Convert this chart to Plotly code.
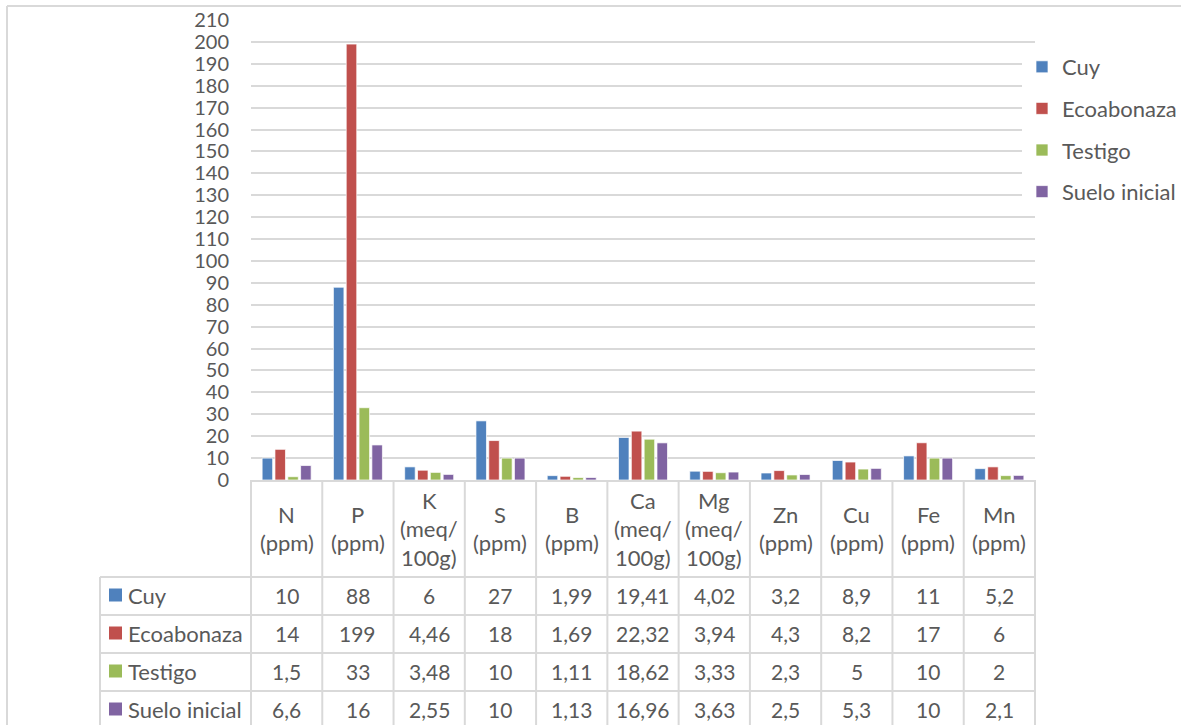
import plotly.graph_objects as go

# ---- data ----
categories = ["N (ppm)", "P (ppm)", "K (meq/100g)", "S (ppm)", "B (ppm)",
              "Ca (meq/100g)", "Mg (meq/100g)", "Zn (ppm)", "Cu (ppm)",
              "Fe (ppm)", "Mn (ppm)"]
header_lines = [["N", "(ppm)"], ["P", "(ppm)"], ["K", "(meq/", "100g)"],
                ["S", "(ppm)"], ["B", "(ppm)"], ["Ca", "(meq/", "100g)"],
                ["Mg", "(meq/", "100g)"], ["Zn", "(ppm)"], ["Cu", "(ppm)"],
                ["Fe", "(ppm)"], ["Mn", "(ppm)"]]
series_names = ["Cuy", "Ecoabonaza", "Testigo", "Suelo inicial"]
cuy = [10, 88, 6, 27, 1.99, 19.41, 4.02, 3.2, 8.9, 11, 5.2]
ecoabonaza = [14, 199, 4.46, 18, 1.69, 22.32, 3.94, 4.3, 8.2, 17, 6]
testigo = [1.5, 33, 3.48, 10, 1.11, 18.62, 3.33, 2.3, 5, 10, 2]
suelo_inicial = [6.6, 16, 2.55, 10, 1.13, 16.96, 3.63, 2.5, 5.3, 10, 2.1]
series_values = [cuy, ecoabonaza, testigo, suelo_inicial]
colors = ["#4F81BD", "#C0504D", "#9BBB59", "#8064A2"]
y_ticks = list(range(0, 211, 10))

# ---- layout geometry (pixels) ----
W_FIG, H_FIG = 1181, 725
L, R, T, B = 251, 1035, 20, 480
PW, PH = R - L, B - T
FONT = "Lato, Open Sans, sans-serif"
TXT = "#595959"
GRID = "#d9d9d9"
TXT_SIZE = 22
NUM_SIZE = 21
TICK_SIZE = 20


def px(x):
    return (x - L) / PW


def py(y):
    return (B - y) / PH


fig = go.Figure()
for name, vals, col in zip(series_names, series_values, colors):
    fig.add_trace(go.Bar(
        name=name, x=categories, y=vals, legendgroup=name,
        marker=dict(color=col, line=dict(color="rgba(255,255,255,0.7)", width=1)),
    ))

shapes = []
annotations = []
n = len(categories)
row_tops = [577, 615, 653, 691, 729]
header_top, header_bot = B, 577

# vertical table lines at category boundaries
for i in range(n + 1):
    shapes.append(dict(type="line", xref="paper", yref="paper",
                       x0=i / n, x1=i / n, y0=py(B), y1=py(730),
                       line=dict(color=GRID, width=2)))
# left border of the row-label column
shapes.append(dict(type="line", xref="paper", yref="paper",
                   x0=px(100), x1=px(100), y0=py(577), y1=py(730),
                   line=dict(color=GRID, width=2)))
# horizontal table lines
for yy in row_tops[:-1]:
    shapes.append(dict(type="line", xref="paper", yref="paper",
                       x0=px(100), x1=1, y0=py(yy), y1=py(yy),
                       line=dict(color=GRID, width=2)))
# chart outer border (left + top)
shapes.append(dict(type="line", xref="paper", yref="paper",
                   x0=px(7), x1=px(7), y0=py(6), y1=py(740),
                   line=dict(color=GRID, width=2)))
shapes.append(dict(type="line", xref="paper", yref="paper",
                   x0=px(7), x1=px(1200), y0=py(6), y1=py(6),
                   line=dict(color=GRID, width=2)))

# header labels
hc = (header_top + header_bot) / 2
lh = 28.5
for i, lines in enumerate(header_lines):
    k = len(lines)
    for j, line in enumerate(lines):
        yc = hc + (j - (k - 1) / 2) * lh
        annotations.append(dict(xref="paper", yref="paper", x=(i + 0.5) / n,
                                y=py(yc), text=line, showarrow=False,
                                xanchor="center", yanchor="middle",
                                font=dict(family=FONT, size=TXT_SIZE, color=TXT)))

# rows
for r, (name, vals, col) in enumerate(zip(series_names, series_values, colors)):
    yc = (row_tops[r] + row_tops[r + 1]) / 2 - 1
    shapes.append(dict(type="rect", xref="paper", yref="paper",
                       x0=px(109), x1=px(122), y0=py(yc - 6.5), y1=py(yc + 6.5),
                       fillcolor=col, line=dict(width=0)))
    annotations.append(dict(xref="paper", yref="paper", x=px(126), y=py(yc),
                            text=name, showarrow=False, xanchor="left",
                            yanchor="middle",
                            font=dict(family=FONT, size=TXT_SIZE, color=TXT)))
    for i, v in enumerate(vals):
        annotations.append(dict(xref="paper", yref="paper", x=(i + 0.5) / n,
                                y=py(yc), text=f"{v:g}".replace(".", ","),
                                showarrow=False, xanchor="center",
                                yanchor="middle",
                                font=dict(family=FONT, size=NUM_SIZE, color=TXT)))

fig.update_layout(
    width=W_FIG, height=H_FIG,
    margin=dict(l=L, r=W_FIG - R, t=T, b=H_FIG - B, autoexpand=False),
    paper_bgcolor="white", plot_bgcolor="white",
    barmode="group", bargap=0.28, bargroupgap=0.18,
    font=dict(family=FONT, size=NUM_SIZE, color=TXT),
    showlegend=True,
    legend=dict(x=px(1022), y=py(46), xanchor="left", yanchor="top",
                traceorder="grouped", tracegroupgap=10,
                font=dict(family=FONT, size=TXT_SIZE, color=TXT),
                itemclick=False, itemdoubleclick=False),
    xaxis=dict(showticklabels=False, showgrid=False, showline=True,
               linecolor=GRID, linewidth=2, ticks="", fixedrange=True),
    yaxis=dict(range=[0, 210], tickvals=y_ticks, showgrid=True,
               gridcolor=GRID, gridwidth=2, showline=False, zeroline=False,
               ticks="", ticklabelstandoff=21,
               tickfont=dict(family=FONT, size=TICK_SIZE, color=TXT), fixedrange=True),
    shapes=shapes, annotations=annotations,
)

fig.write_html("out.html", config={"displayModeBar": False},
               post_script="document.body.style.margin='0';")
